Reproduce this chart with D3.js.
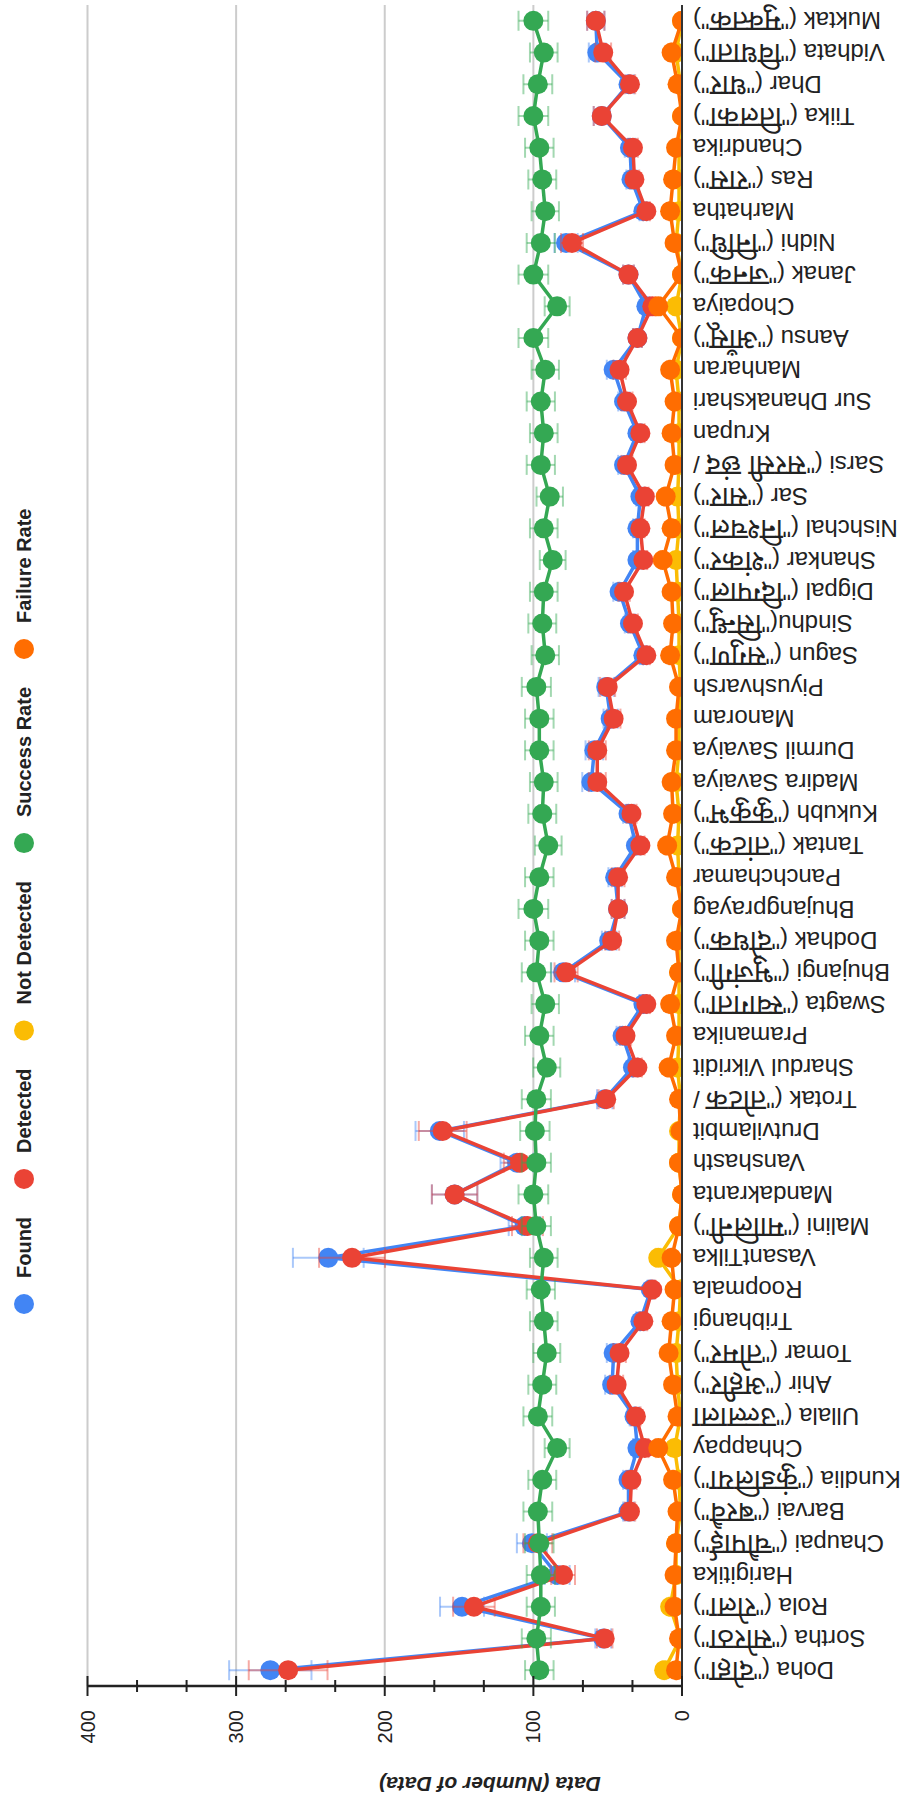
<!DOCTYPE html>
<meta charset="utf-8">
<script src="https://d3js.org/d3.v7.min.js"></script>
<style>
  body { margin: 0; background: #fff; }
  text { font-family: "Liberation Sans", Arial, sans-serif; fill: #222; }
</style>
<body>
<div id="chart"></div>
<script>

// chhand names, in the order they sit on the category axis
var categories = [
  'Doha ("दोहा")', 'Sortha ("सोरठा")', 'Rola ("रोला")', 'Harigitika', 'Chaupai ("चौपाई")',
  'Barvai ("बरवै")', 'Kundlia ("कुंडलिया")', 'Chhappay', 'Ullala ("उल्लाला', 'Ahir ("अहीर")',
  'Tomar ("तोमर")', 'Tribhangi', 'Roopmala', 'VasantTilka', 'Malini ("मालिनी")',
  'Mandakranta', 'Vanshasth', 'Drutvilambit', 'Trotak ("तोटक /', 'Shardul Vikridit',
  'Pramanika', 'Swagta ("स्वागता")', 'Bhujangi ("भुजंगी")', 'Dodhak ("दोधक")', 'Bhujangprayag',
  'Panchchamar', 'Tantak ("तांटक")', 'Kukubh ("कुकुभ")', 'Madira Savaiya', 'Durmil Savaiya',
  'Manoram', 'Piyushvarsh', 'Sagun ("सगुण")', 'Sindhu("सिन्धु")', 'Digpal ("दिग्पाल")',
  'Shankar ("शंकर")', 'Nishchal ("निश्चल")', 'Sar ("सार")', 'Sarsi ("सरसी छंद /', 'Krupan',
  'Sur Dhanakshari', 'Manharan', 'Aansu ("आँसू")', 'Chopaiya', 'Janak ("जनक")',
  'Nidhi ("निधि")', 'Marhatha', 'Ras ("रास")', 'Chandrika', 'Tiika ("तिलका")',
  'Dhar ("धार")', 'Vidhata ("विधाता")', 'Muktak ("मुक्तक")'
];

var found = [277, 53, 148, 84, 101, 36, 36, 30, 32, 47, 46, 28, 21, 238, 106, 153, 111, 163, 52, 33,
  40, 26, 80, 49, 43, 45, 31, 36, 61, 59, 48, 51, 26, 35, 42, 30, 30, 28, 39, 30,
  39, 46, 30, 24, 36, 78, 26, 34, 35, 54, 36, 57, 58];
var detected = [265, 52, 140, 80, 97, 35, 34, 25, 31, 44, 42, 26, 20, 222, 104, 153, 109, 161, 51, 30,
  38, 24, 78, 47, 43, 43, 28, 34, 57, 57, 46, 50, 24, 33, 39, 26, 28, 25, 37, 28,
  37, 42, 30, 20, 36, 74, 24, 32, 33, 54, 35, 53, 58];
var notDetected = [12, 1, 8, 4, 4, 1, 2, 5, 1, 3, 4, 2, 1, 16, 2, 0, 2, 2, 1, 3,
  2, 2, 2, 2, 0, 2, 3, 2, 4, 2, 2, 1, 2, 2, 3, 4, 2, 3, 2, 2,
  2, 4, 0, 4, 0, 4, 2, 2, 2, 0, 1, 4, 0];
var successRate = [96, 98, 95, 95, 96, 97, 94, 84, 97, 94, 91, 93, 95, 93, 98, 100, 98, 99, 98, 91,
  96, 92, 98, 96, 100, 96, 90, 94, 93, 96, 96, 98, 92, 94, 93, 87, 93, 89, 95, 93,
  95, 92, 100, 84, 100, 95, 92, 94, 96, 100, 97, 93, 100];
var failureRate = [4, 2, 5, 5, 4, 3, 6, 16, 3, 6, 9, 7, 5, 7, 2, 0, 2, 1, 2, 9,
  4, 8, 2, 4, 0, 4, 10, 6, 7, 4, 4, 2, 8, 6, 7, 13, 7, 11, 5, 7,
  5, 8, 0, 16, 0, 5, 8, 6, 4, 0, 3, 7, 0];

var seriesNames = ["Found", "Detected", "Not Detected", "Success Rate", "Failure Rate"];
var seriesColors = ["#4285F4", "#EA4335", "#FBBC04", "#34A853", "#FF6D01"];
var valueTicks = [0, 100, 200, 300, 400];

var series = [found, detected, notDetected, successRate, failureRate].map(function(vals, i) {
  return { name: seriesNames[i], color: seriesColors[i], values: vals };
});

// page is portrait; the chart is built landscape and turned a quarter turn
var pageW = 904, pageH = 1809;
var plot = {left: 123, right: 1804, top: 87.5, bottom: 682};

var svg = d3.select("#chart").append("svg")
  .attr("width", pageW)
  .attr("height", pageH);

var g = svg.append("g")
  .attr("transform", "translate(0," + pageH + ") rotate(-90)");

var x = d3.scaleBand().domain(categories).range([plot.left, plot.right]);
var y = d3.scaleLinear().domain([0, 400]).range([plot.bottom, plot.top]);
function cx(i) { return x(categories[i]) + x.bandwidth() / 2; }

// gridlines
g.selectAll(".grid")
  .data(valueTicks.slice(1))
  .enter().append("line")
    .attr("x1", plot.left).attr("x2", plot.right)
    .attr("y1", function(d) { return y(d); })
    .attr("y2", function(d) { return y(d); })
    .attr("stroke", "#cccccc")
    .attr("stroke-width", 2);

g.append("clipPath").attr("id", "plotclip")
  .append("rect")
    .attr("x", plot.left).attr("y", plot.top - 20)
    .attr("width", plot.right - plot.left).attr("height", plot.bottom - plot.top + 20);

var marks = g.append("g").attr("clip-path", "url(#plotclip)");

var line = d3.line()
  .x(function(d, i) { return cx(i); })
  .y(function(d) { return y(d); });

series.forEach(function(s) {
  var sg = marks.append("g");

  // +/- 10% error bars
  var eb = sg.selectAll(".err")
    .data(s.values)
    .enter().append("g")
      .attr("stroke", s.color)
      .attr("stroke-opacity", 0.45)
      .attr("stroke-width", 2);
  eb.append("line")
    .attr("x1", function(d, i) { return cx(i); })
    .attr("x2", function(d, i) { return cx(i); })
    .attr("y1", function(d) { return y(d * 0.9); })
    .attr("y2", function(d) { return y(d * 1.1); });
  [0.9, 1.1].forEach(function(k) {
    eb.append("line")
      .attr("x1", function(d, i) { return cx(i) - 10; })
      .attr("x2", function(d, i) { return cx(i) + 10; })
      .attr("y1", function(d) { return y(d * k); })
      .attr("y2", function(d) { return y(d * k); });
  });

  sg.append("path")
    .datum(s.values)
    .attr("fill", "none")
    .attr("stroke", s.color)
    .attr("stroke-width", 3.5)
    .attr("stroke-linejoin", "round")
    .attr("d", line);

  sg.selectAll(".pt")
    .data(s.values)
    .enter().append("circle")
      .attr("cx", function(d, i) { return cx(i); })
      .attr("cy", function(d) { return y(d); })
      .attr("r", 10)
      .attr("fill", s.color);
});

// category axis line (value 0)
g.append("line")
  .attr("x1", plot.left).attr("x2", plot.right)
  .attr("y1", plot.bottom).attr("y2", plot.bottom)
  .attr("stroke", "#333")
  .attr("stroke-width", 2);

// value axis with major and minor ticks
g.append("line")
  .attr("x1", plot.left).attr("x2", plot.left)
  .attr("y1", y(0)).attr("y2", y(400))
  .attr("stroke", "#222")
  .attr("stroke-width", 2.5);

var minorTicks = d3.range(0, 12).map(function(k) { return k * 100 / 3; })
  .filter(function(t) { return valueTicks.indexOf(Math.round(t)) < 0; });

g.selectAll(".major")
  .data(valueTicks)
  .enter().append("line")
    .attr("x1", plot.left - 10).attr("x2", plot.left + 10)
    .attr("y1", function(d) { return y(d); })
    .attr("y2", function(d) { return y(d); })
    .attr("stroke", "#222").attr("stroke-width", 2);

g.selectAll(".minor")
  .data(minorTicks)
  .enter().append("line")
    .attr("x1", plot.left - 6).attr("x2", plot.left + 6)
    .attr("y1", function(d) { return y(d); })
    .attr("y2", function(d) { return y(d); })
    .attr("stroke", "#222").attr("stroke-width", 2);

g.selectAll(".ticklabel")
  .data(valueTicks)
  .enter().append("text")
    .attr("x", 99)
    .attr("y", function(d) { return y(d); })
    .attr("dy", "0.35em")
    .attr("text-anchor", "end")
    .style("font-size", "20px")
    .text(function(d) { return d; });

g.append("text")
  .attr("transform", "translate(25,490) rotate(-90)")
  .attr("dy", "0.35em")
  .attr("text-anchor", "middle")
  .style("font-size", "21px")
  .style("font-weight", "bold")
  .style("font-style", "italic")
  .text("Data (Number of Data)");

// category labels; the Devanagari runs come out small in the fallback font, so bump them
var deva = /([\u0900-\u097F]+(?: [\u0900-\u097F]+)*)/;
g.selectAll(".catlabel")
  .data(categories)
  .enter().append("text")
    .attr("transform", function(d, i) { return "translate(" + cx(i) + ",693) rotate(-90)"; })
    .attr("dy", "0.35em")
    .attr("text-anchor", "end")
    .style("font-size", "24px")
    .each(function(d) {
      var el = d3.select(this);
      d.split(deva).forEach(function(part, k) {
        if (!part) return;
        var ts = el.append("tspan").text(part);
        if (k % 2 == 1) ts.style("font-size", "1.2em");
      });
    });

// legend
var lx = 505;
series.forEach(function(s) {
  g.append("circle").attr("cx", lx).attr("cy", 24).attr("r", 10).attr("fill", s.color);
  var t = g.append("text")
    .attr("x", lx + 26).attr("y", 31)
    .style("font-size", "20px")
    .style("font-weight", "bold")
    .text(s.name);
  lx += 26 + t.node().getComputedTextLength() + 38;
});

</script>
</body>
